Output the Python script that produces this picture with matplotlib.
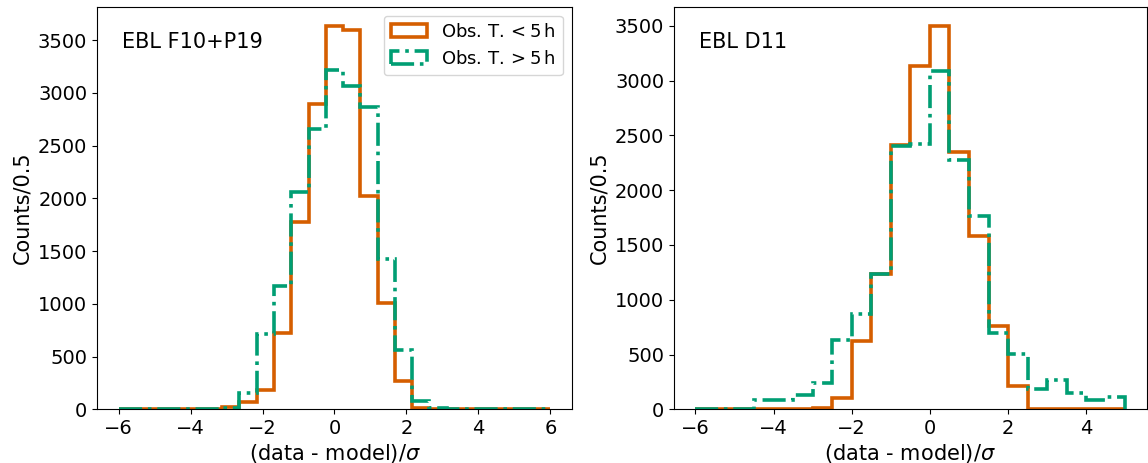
import numpy as np
import matplotlib
matplotlib.use("Agg")
import matplotlib.pyplot as plt

# ---- data ----
# Left panel: 25 bins between -6 and 6
left_range = (-6.0, 6.0)
left_nbins = 25
left_short = [0, 0, 0, 0, 2, 3, 19, 72, 185, 728, 1775, 2894, 3635,
              3594, 2018, 1003, 270, 16, 3, 2, 2, 2, 2, 2, 2]
left_long = [2, 2, 2, 3, 4, 6, 10, 155, 710, 1167, 2059, 2658, 3216,
             3068, 2869, 1428, 561, 80, 15, 5, 3, 2, 2, 2, 2]

# Right panel: 22 bins between -6 and 5
right_range = (-6.0, 5.0)
right_nbins = 22
right_short = [0, 1, 2, 3, 3, 4, 15, 106, 625, 1233, 2417, 3130, 3500,
               2347, 1582, 762, 210, 6, 5, 5, 5, 5]
right_long = [1, 3, 5, 82, 82, 127, 243, 631, 874, 1239, 2408, 2423, 3091,
              2277, 1764, 692, 504, 182, 267, 146, 82, 115]

labels = [r"Obs. T.$\,<5\,$h", r"Obs. T.$\,>5\,$h"]
panel_titles = ["EBL F10+P19", "EBL D11"]
xlabel = r"(data - model)/$\sigma$"
ylabel = "Counts/0.5"

c_short = "#D55E00"
c_long = "#009E73"

fig = plt.figure(figsize=(11.48, 4.63), dpi=100)
ax1 = fig.add_axes([0.0845, 0.116, 0.4137, 0.8695])
ax2 = fig.add_axes([0.587, 0.116, 0.412, 0.8695])

panels = [
    (ax1, left_range, left_nbins, left_short, left_long, panel_titles[0]),
    (ax2, right_range, right_nbins, right_short, right_long, panel_titles[1]),
]

for ax, rng, nb, s_vals, l_vals, title in panels:
    edges = np.linspace(rng[0], rng[1], nb + 1)
    centers = 0.5 * (edges[:-1] + edges[1:])
    ax.hist(centers, bins=edges, weights=s_vals, histtype="step",
            color=c_short, lw=2.6, label=labels[0])
    ax.hist(centers, bins=edges, weights=l_vals, histtype="step",
            color=c_long, lw=2.6, ls="-.", label=labels[1])
    ax.set_xlabel(xlabel, fontsize=15, labelpad=3)
    ax.set_ylabel(ylabel, fontsize=15)
    ax.tick_params(labelsize=14)
    ax.text(0.053, 0.912, title, transform=ax.transAxes, fontsize=15,
            ha="left", va="center")
    ax.set_xticks([-6, -4, -2, 0, 2, 4, 6] if rng[1] > 5 else [-6, -4, -2, 0, 2, 4])

ax1.legend(loc="upper right", fontsize=13)

fig.savefig("out.png", dpi=100)
